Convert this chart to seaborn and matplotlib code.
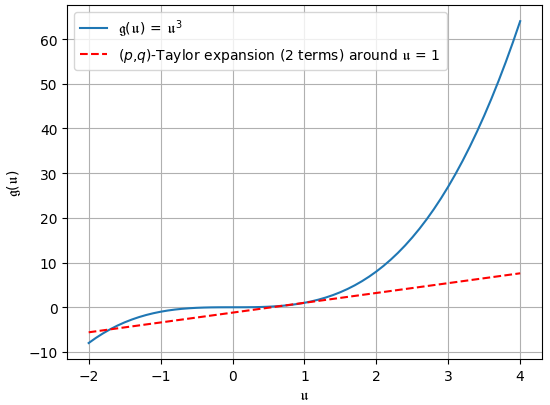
import matplotlib
matplotlib.use("Agg")
import matplotlib.pyplot as plt
import seaborn as sns

# cubic curve sampled every 0.1
u_vals = [-2.0, -1.9, -1.8, -1.7, -1.6, -1.5, -1.4, -1.3, -1.2, -1.1,
          -1.0, -0.9, -0.8, -0.7, -0.6, -0.5, -0.4, -0.3, -0.2, -0.1,
          0.0, 0.1, 0.2, 0.3, 0.4, 0.5, 0.6, 0.7, 0.8, 0.9,
          1.0, 1.1, 1.2, 1.3, 1.4, 1.5, 1.6, 1.7, 1.8, 1.9,
          2.0, 2.1, 2.2, 2.3, 2.4, 2.5, 2.6, 2.7, 2.8, 2.9,
          3.0, 3.1, 3.2, 3.3, 3.4, 3.5, 3.6, 3.7, 3.8, 3.9, 4.0]
g_vals = [-8.0, -6.859, -5.832, -4.913, -4.096, -3.375, -2.744, -2.197, -1.728, -1.331,
          -1.0, -0.729, -0.512, -0.343, -0.216, -0.125, -0.064, -0.027, -0.008, -0.001,
          0.0, 0.001, 0.008, 0.027, 0.064, 0.125, 0.216, 0.343, 0.512, 0.729,
          1.0, 1.331, 1.728, 2.197, 2.744, 3.375, 4.096, 4.913, 5.832, 6.859,
          8.0, 9.261, 10.648, 12.167, 13.824, 15.625, 17.576, 19.683, 21.952, 24.389,
          27.0, 29.791, 32.768, 35.937, 39.304, 42.875, 46.656, 50.653, 54.872, 59.319, 64.0]

# taylor line endpoints
taylor_u = [-2.0, 1.0, 4.0]
taylor_g = [-5.6, 1.0, 7.6]

fig, ax = plt.subplots(figsize=(5.5, 4.06), dpi=100)
sns.lineplot(x=u_vals, y=g_vals, ax=ax, color="#1f77b4",
             label=r"$\mathfrak{g}(\mathfrak{u})\,=\,\mathfrak{u}^3$")
sns.lineplot(x=taylor_u, y=taylor_g, ax=ax, color="red", linestyle="--",
             label=r"$(p$,$q)$-Taylor expansion (2 terms) around $\mathfrak{u}$ = 1")
ax.set_xlabel(r"$\mathfrak{u}$")
ax.set_ylabel(r"$\mathfrak{g}(\mathfrak{u})$")
ax.grid(True)
ax.legend(loc="upper left")
plt.subplots_adjust(left=0.122, right=0.985, top=0.985, bottom=0.113)
plt.savefig("out.png", dpi=100)
